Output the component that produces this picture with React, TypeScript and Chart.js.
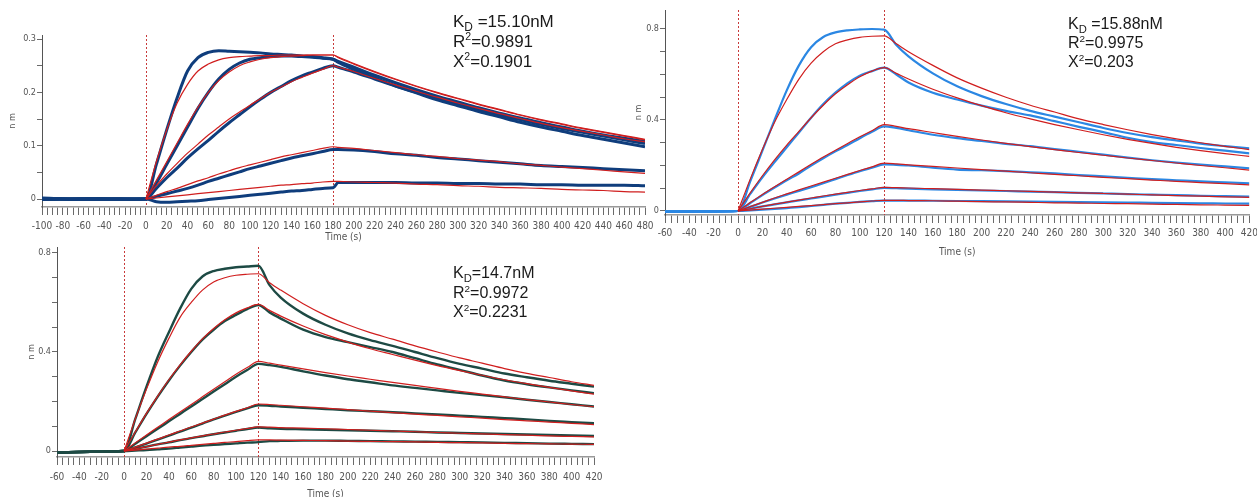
import React, { useEffect, useRef } from 'react';
import { Chart, registerables } from 'chart.js';
Chart.register(...registerables);

// ---------- Panel 1 (top-left) ----------
const P1_TIME = [-100, -50, 0, 10, 20, 30, 40, 50, 60, 70, 80, 90, 100, 110, 120, 130, 140, 150, 160, 170, 180, 185, 200, 220, 240, 260, 280, 300, 320, 340, 360, 380, 400, 420, 440, 460, 480];
const P1_A = [0.002, -0.001, 0, 0.065, 0.13, 0.19, 0.24, 0.265, 0.275, 0.278, 0.277, 0.276, 0.275, 0.274, 0.272, 0.271, 0.27, 0.268, 0.267, 0.265, 0.262, 0.256, 0.243, 0.227, 0.212, 0.199, 0.186, 0.175, 0.164, 0.154, 0.144, 0.135, 0.127, 0.119, 0.112, 0.105, 0.098];
const P1_A_FIT = [null, null, 0, 0.07, 0.13, 0.18, 0.215, 0.24, 0.253, 0.261, 0.265, 0.267, 0.268, 0.269, 0.269, 0.27, 0.27, 0.27, 0.27, 0.27, 0.27, 0.265, 0.253, 0.238, 0.224, 0.211, 0.199, 0.188, 0.177, 0.167, 0.157, 0.148, 0.14, 0.132, 0.125, 0.118, 0.111];
const P1_B = [0, 0.001, 0, 0.03, 0.065, 0.1, 0.135, 0.17, 0.2, 0.225, 0.243, 0.255, 0.262, 0.265, 0.267, 0.268, 0.268, 0.267, 0.266, 0.264, 0.262, 0.258, 0.247, 0.232, 0.218, 0.205, 0.193, 0.182, 0.171, 0.161, 0.152, 0.143, 0.135, 0.127, 0.12, 0.114, 0.108];
const P1_B_FIT = [null, null, 0, 0.035, 0.07, 0.105, 0.14, 0.172, 0.2, 0.222, 0.238, 0.25, 0.257, 0.262, 0.265, 0.267, 0.268, 0.269, 0.27, 0.27, 0.27, 0.266, 0.254, 0.239, 0.225, 0.212, 0.2, 0.189, 0.178, 0.168, 0.158, 0.149, 0.141, 0.133, 0.126, 0.119, 0.112];
const P1_C = [-0.001, 0.001, 0, 0.02, 0.04, 0.058, 0.077, 0.094, 0.11, 0.127, 0.143, 0.158, 0.173, 0.187, 0.2, 0.211, 0.222, 0.231, 0.238, 0.245, 0.25, 0.247, 0.238, 0.225, 0.212, 0.2, 0.189, 0.178, 0.168, 0.158, 0.149, 0.14, 0.132, 0.125, 0.118, 0.111, 0.104];
const P1_C_FIT = [null, null, 0, 0.025, 0.047, 0.067, 0.086, 0.103, 0.12, 0.135, 0.15, 0.163, 0.176, 0.188, 0.2, 0.21, 0.22, 0.228, 0.236, 0.243, 0.25, 0.247, 0.239, 0.226, 0.214, 0.202, 0.191, 0.18, 0.17, 0.16, 0.151, 0.142, 0.134, 0.127, 0.12, 0.113, 0.107];
const P1_D = [0.001, 0, 0, 0.005, 0.01, 0.015, 0.02, 0.026, 0.033, 0.039, 0.045, 0.051, 0.057, 0.062, 0.067, 0.072, 0.077, 0.081, 0.085, 0.089, 0.093, 0.093, 0.092, 0.089, 0.085, 0.082, 0.078, 0.075, 0.072, 0.069, 0.066, 0.063, 0.061, 0.059, 0.057, 0.055, 0.053];
const P1_D_FIT = [null, null, 0, 0.007, 0.014, 0.02, 0.027, 0.034, 0.04, 0.047, 0.053, 0.059, 0.064, 0.069, 0.074, 0.079, 0.083, 0.087, 0.091, 0.095, 0.098, 0.097, 0.095, 0.091, 0.087, 0.083, 0.08, 0.076, 0.073, 0.07, 0.066, 0.063, 0.06, 0.057, 0.054, 0.051, 0.048];
const P1_E = [0, -0.001, 0, -0.005, -0.006, -0.005, -0.004, -0.003, -0.001, 0.001, 0.003, 0.005, 0.007, 0.009, 0.011, 0.013, 0.015, 0.016, 0.018, 0.02, 0.021, 0.031, 0.031, 0.031, 0.031, 0.03, 0.03, 0.029, 0.029, 0.028, 0.028, 0.027, 0.027, 0.026, 0.026, 0.026, 0.025];
const P1_E_FIT = [null, null, 0, 0.002, 0.004, 0.006, 0.008, 0.01, 0.012, 0.014, 0.016, 0.018, 0.02, 0.022, 0.024, 0.026, 0.027, 0.029, 0.03, 0.032, 0.033, 0.033, 0.032, 0.031, 0.03, 0.028, 0.027, 0.025, 0.024, 0.022, 0.021, 0.02, 0.018, 0.017, 0.016, 0.014, 0.013];

// ---------- Panel 2 (top-right) ----------
const P2_TIME = [-60, -30, 0, 10, 20, 30, 40, 50, 60, 70, 80, 90, 100, 110, 120, 130, 140, 160, 180, 200, 220, 240, 260, 280, 300, 320, 340, 360, 380, 400, 420];
const P2_1 = [-0.003, -0.002, 0, 0.13, 0.265, 0.4, 0.53, 0.64, 0.72, 0.765, 0.785, 0.794, 0.798, 0.8, 0.797, 0.73, 0.68, 0.605, 0.548, 0.505, 0.47, 0.44, 0.415, 0.39, 0.365, 0.343, 0.325, 0.31, 0.296, 0.285, 0.275];
const P2_1_FIT = [null, null, 0, 0.14, 0.27, 0.39, 0.49, 0.58, 0.65, 0.7, 0.735, 0.752, 0.763, 0.768, 0.77, 0.735, 0.7, 0.64, 0.585, 0.54, 0.5, 0.465, 0.435, 0.405, 0.38, 0.357, 0.336, 0.317, 0.3, 0.284, 0.27];
const P2_2 = [-0.003, -0.002, 0, 0.075, 0.148, 0.215, 0.28, 0.345, 0.41, 0.47, 0.52, 0.562, 0.595, 0.615, 0.63, 0.6, 0.565, 0.52, 0.49, 0.463, 0.44, 0.42, 0.395, 0.37, 0.347, 0.322, 0.303, 0.29, 0.277, 0.265, 0.253];
const P2_2_FIT = [null, null, 0, 0.08, 0.155, 0.225, 0.29, 0.35, 0.41, 0.465, 0.515, 0.555, 0.59, 0.615, 0.63, 0.605, 0.58, 0.535, 0.497, 0.463, 0.432, 0.405, 0.38, 0.357, 0.335, 0.315, 0.297, 0.28, 0.265, 0.252, 0.24];
const P2_3 = [-0.003, -0.002, 0, 0.035, 0.07, 0.103, 0.135, 0.165, 0.2, 0.232, 0.262, 0.29, 0.32, 0.348, 0.372, 0.365, 0.355, 0.335, 0.32, 0.308, 0.295, 0.285, 0.272, 0.26, 0.248, 0.235, 0.223, 0.213, 0.204, 0.196, 0.188];
const P2_3_FIT = [null, null, 0, 0.037, 0.073, 0.107, 0.14, 0.172, 0.205, 0.237, 0.267, 0.297, 0.326, 0.353, 0.38, 0.372, 0.362, 0.345, 0.328, 0.312, 0.297, 0.283, 0.27, 0.257, 0.245, 0.233, 0.222, 0.211, 0.2, 0.19, 0.18];
const P2_4 = [-0.003, -0.002, 0, 0.018, 0.037, 0.055, 0.072, 0.088, 0.105, 0.122, 0.14, 0.158, 0.175, 0.19, 0.205, 0.203, 0.2, 0.19, 0.182, 0.179, 0.175, 0.17, 0.165, 0.158, 0.152, 0.146, 0.14, 0.135, 0.13, 0.126, 0.122];
const P2_4_FIT = [null, null, 0, 0.019, 0.038, 0.057, 0.075, 0.093, 0.11, 0.127, 0.144, 0.161, 0.178, 0.194, 0.21, 0.207, 0.203, 0.196, 0.189, 0.182, 0.175, 0.168, 0.161, 0.155, 0.148, 0.142, 0.136, 0.13, 0.125, 0.12, 0.115];
const P2_5 = [-0.003, -0.002, 0, 0.01, 0.02, 0.029, 0.038, 0.047, 0.055, 0.063, 0.072, 0.08, 0.088, 0.095, 0.102, 0.1, 0.098, 0.095, 0.093, 0.09, 0.088, 0.085, 0.083, 0.08, 0.077, 0.074, 0.072, 0.07, 0.067, 0.065, 0.063];
const P2_5_FIT = [null, null, 0, 0.01, 0.02, 0.03, 0.039, 0.048, 0.057, 0.066, 0.074, 0.082, 0.09, 0.097, 0.104, 0.103, 0.101, 0.098, 0.095, 0.092, 0.089, 0.086, 0.083, 0.08, 0.077, 0.074, 0.071, 0.068, 0.065, 0.062, 0.06];
const P2_6 = [-0.003, -0.002, 0, 0.003, 0.006, 0.009, 0.013, 0.017, 0.022, 0.027, 0.032, 0.036, 0.04, 0.043, 0.046, 0.046, 0.046, 0.045, 0.044, 0.043, 0.042, 0.041, 0.04, 0.039, 0.038, 0.037, 0.036, 0.035, 0.034, 0.033, 0.032];
const P2_6_FIT = [null, null, 0, 0.004, 0.008, 0.012, 0.016, 0.02, 0.024, 0.028, 0.032, 0.036, 0.04, 0.044, 0.047, 0.047, 0.046, 0.045, 0.043, 0.041, 0.04, 0.038, 0.036, 0.035, 0.033, 0.032, 0.03, 0.029, 0.027, 0.026, 0.025];

// ---------- Panel 3 (bottom-left) ----------
const P3_TIME = [-60, -30, 0, 10, 20, 30, 40, 50, 60, 70, 80, 90, 100, 110, 120, 130, 140, 160, 180, 200, 220, 240, 260, 280, 300, 320, 340, 360, 380, 400, 420];
const P3_1 = [-0.006, -0.003, 0, 0.13, 0.26, 0.38, 0.48, 0.575, 0.655, 0.705, 0.727, 0.736, 0.742, 0.745, 0.748, 0.67, 0.62, 0.555, 0.51, 0.475, 0.448, 0.425, 0.4, 0.375, 0.352, 0.333, 0.313, 0.298, 0.284, 0.272, 0.26];
const P3_1_FIT = [null, null, 0, 0.13, 0.25, 0.36, 0.455, 0.54, 0.6, 0.65, 0.683, 0.7, 0.71, 0.714, 0.716, 0.68, 0.65, 0.595, 0.548, 0.51, 0.478, 0.452, 0.425, 0.4, 0.376, 0.355, 0.333, 0.314, 0.297, 0.28, 0.265];
const P3_2 = [-0.006, -0.003, 0, 0.075, 0.15, 0.22, 0.285, 0.345, 0.4, 0.45, 0.49, 0.525, 0.55, 0.573, 0.59, 0.56, 0.535, 0.49, 0.46, 0.44, 0.42, 0.4, 0.375, 0.35, 0.328, 0.305, 0.285, 0.27, 0.257, 0.245, 0.234];
const P3_2_FIT = [null, null, 0, 0.077, 0.152, 0.222, 0.288, 0.348, 0.403, 0.453, 0.495, 0.53, 0.558, 0.578, 0.592, 0.568, 0.545, 0.505, 0.47, 0.44, 0.413, 0.39, 0.367, 0.345, 0.325, 0.306, 0.288, 0.272, 0.257, 0.243, 0.23];
const P3_3 = [-0.006, -0.003, 0, 0.03, 0.06, 0.09, 0.12, 0.15, 0.18, 0.21, 0.24, 0.27, 0.3, 0.327, 0.352, 0.347, 0.34, 0.322, 0.305, 0.29, 0.278, 0.265, 0.255, 0.245, 0.235, 0.226, 0.217, 0.207, 0.198, 0.189, 0.18];
const P3_3_FIT = [null, null, 0, 0.033, 0.065, 0.096, 0.127, 0.158, 0.188, 0.219, 0.25, 0.28, 0.31, 0.337, 0.362, 0.355, 0.347, 0.332, 0.317, 0.303, 0.29, 0.277, 0.265, 0.253, 0.241, 0.23, 0.219, 0.208, 0.198, 0.188, 0.179];
const P3_4 = [-0.006, -0.003, 0, 0.015, 0.03, 0.046, 0.062, 0.078, 0.095, 0.111, 0.128, 0.143, 0.158, 0.172, 0.185, 0.183, 0.18, 0.175, 0.17, 0.165, 0.161, 0.157, 0.152, 0.148, 0.143, 0.138, 0.133, 0.128, 0.122, 0.117, 0.112];
const P3_4_FIT = [null, null, 0, 0.016, 0.032, 0.048, 0.065, 0.081, 0.097, 0.113, 0.129, 0.145, 0.16, 0.175, 0.19, 0.188, 0.185, 0.179, 0.173, 0.167, 0.161, 0.155, 0.149, 0.144, 0.138, 0.133, 0.127, 0.122, 0.117, 0.112, 0.107];
const P3_5 = [-0.006, -0.003, 0, 0.009, 0.018, 0.027, 0.035, 0.044, 0.052, 0.06, 0.068, 0.075, 0.082, 0.089, 0.095, 0.092, 0.09, 0.088, 0.086, 0.084, 0.082, 0.08, 0.078, 0.075, 0.073, 0.071, 0.069, 0.067, 0.065, 0.063, 0.061];
const P3_5_FIT = [null, null, 0, 0.009, 0.018, 0.027, 0.036, 0.045, 0.053, 0.061, 0.069, 0.077, 0.084, 0.091, 0.098, 0.097, 0.095, 0.093, 0.09, 0.087, 0.084, 0.081, 0.078, 0.075, 0.072, 0.069, 0.066, 0.064, 0.061, 0.059, 0.057];
const P3_6 = [-0.006, -0.003, 0, 0.002, 0.004, 0.007, 0.01, 0.014, 0.018, 0.022, 0.025, 0.028, 0.031, 0.034, 0.036, 0.04, 0.041, 0.042, 0.042, 0.041, 0.04, 0.039, 0.038, 0.037, 0.036, 0.035, 0.033, 0.032, 0.03, 0.029, 0.028];
const P3_6_FIT = [null, null, 0, 0.004, 0.008, 0.012, 0.016, 0.019, 0.023, 0.027, 0.031, 0.035, 0.038, 0.042, 0.045, 0.045, 0.044, 0.043, 0.042, 0.04, 0.039, 0.038, 0.037, 0.035, 0.034, 0.033, 0.031, 0.03, 0.029, 0.028, 0.027];

// ---------- annotations & labels ----------
const X_TITLE = 'Time (s)';
const Y_TITLE = 'n m';
const P1_STATS = ['15.10nM', '0.9891', '0.1901'];
const P2_STATS = ['15.88nM', '0.9975', '0.203'];
const P3_STATS = ['14.7nM', '0.9972', '0.2231'];

const FIT_COLOR = '#d01e1e';
const TICK_FONT = "'Liberation Sans Narrow', 'DejaVu Sans Condensed', 'Liberation Sans', sans-serif";

const vlinePlugin = {
  id: 'vlines',
  beforeDatasetsDraw(chart: any, _args: any, opts: any) {
    const { ctx, chartArea, scales } = chart;
    ctx.save();
    ctx.strokeStyle = opts.color || '#c0392b';
    ctx.lineWidth = 1;
    ctx.setLineDash([2, 2]);
    for (const v of opts.values || []) {
      const x = Math.round(scales.x.getPixelForValue(v)) + 0.5;
      ctx.beginPath();
      ctx.moveTo(x, chartArea.top);
      ctx.lineTo(x, chartArea.bottom);
      ctx.stroke();
    }
    ctx.restore();
  },
};

function pts(times: number[], vals: (number | null)[]) {
  return times.map((t, i) => ({ x: t, y: vals[i] }));
}

type PanelCfg = {
  left: number; top: number; width: number; height: number;
  pad: { left: number; right: number; top: number };
  yWidth: number; xHeight: number;
  xMin: number; xMax: number; yMin: number; yMax: number;
  yStep: number; yMajor: number;
  vlines: number[];
  times: number[];
  series: (number | null)[][];
  fits: (number | null)[][];
  dataColor: string; dataWidth: number;
  xTickPad: number;
};

function buildConfig(c: PanelCfg): any {
  const datasets: any[] = [];
  c.series.forEach((s) => {
    datasets.push({ data: pts(c.times, s), borderColor: c.dataColor, borderWidth: c.dataWidth, order: 2, pointRadius: 0, tension: 0.35, cubicInterpolationMode: 'monotone' });
  });
  c.fits.forEach((s) => {
    datasets.push({ data: pts(c.times, s), borderColor: FIT_COLOR, borderWidth: 1.2, order: 1, pointRadius: 0, tension: 0.35, cubicInterpolationMode: 'monotone' });
  });
  return {
    type: 'line',
    data: { datasets },
    plugins: [vlinePlugin],
    options: {
      animation: false,
      responsive: false,
      events: [],
      layout: { padding: { left: c.pad.left, right: c.pad.right, top: c.pad.top, bottom: 0 } },
      plugins: { legend: { display: false }, tooltip: { enabled: false }, vlines: { values: c.vlines, color: '#c83a3a' } },
      scales: {
        x: {
          type: 'linear', min: c.xMin, max: c.xMax,
          afterFit: (s: any) => { s.height = c.xHeight; },
          border: { display: true, color: '#9a9a9a', width: 1.5 },
          grid: { drawOnChartArea: false, drawTicks: true, tickLength: 8, tickColor: '#6a6a6a', tickWidth: 1 },
          ticks: {
            stepSize: 5, autoSkip: false, maxRotation: 0, minRotation: 0, includeBounds: false,
            padding: c.xTickPad, color: '#555', font: { family: TICK_FONT, size: 10 },
            callback: (v: number) => (Math.round(v) % 20 === 0 ? String(Math.round(v)) : ''),
          },
          title: { display: true, text: X_TITLE, color: '#555', font: { family: TICK_FONT, size: 10 }, padding: { top: 0, bottom: 2 } },
        },
        y: {
          type: 'linear', min: c.yMin, max: c.yMax,
          afterFit: (s: any) => { s.width = c.yWidth; },
          border: { display: true, color: '#555', width: 1 },
          grid: { drawOnChartArea: false, drawTicks: true, tickLength: 5, tickColor: '#6a6a6a', tickWidth: 1 },
          ticks: {
            stepSize: c.yStep, autoSkip: false, includeBounds: false, padding: 1, color: '#555', font: { family: TICK_FONT, size: 9 },
            callback: (v: number) => {
              const r = Math.round(v * 1000) / 1000;
              const q = r / c.yMajor;
              return Math.abs(q - Math.round(q)) < 1e-6 ? String(r) : '';
            },
          },
          title: { display: true, text: Y_TITLE, color: '#555', font: { family: TICK_FONT, size: 9 }, padding: { top: 2, bottom: 0 } },
        },
      },
    },
  };
}

function Panel({ cfg }: { cfg: PanelCfg }) {
  const ref = useRef<HTMLCanvasElement | null>(null);
  useEffect(() => {
    const chart = new Chart(ref.current as HTMLCanvasElement, buildConfig(cfg));
    return () => chart.destroy();
  }, []);
  return (
    <canvas
      ref={ref}
      width={cfg.width}
      height={cfg.height}
      style={{ position: 'absolute', left: cfg.left, top: cfg.top, width: cfg.width, height: cfg.height }}
    />
  );
}

function Stats({ left, top, size, lh, vals, spaced }: { left: number; top: number; size: number; lh: number; vals: string[]; spaced: boolean }) {
  const sub = { fontSize: '70%', verticalAlign: 'sub', lineHeight: 0 } as React.CSSProperties;
  const sup = { fontSize: '62%', verticalAlign: 'super', lineHeight: 0 } as React.CSSProperties;
  return (
    <div style={{ position: 'absolute', left, top, fontFamily: "'Liberation Sans', Arial, sans-serif", fontSize: size, lineHeight: `${lh}px`, color: '#1a1a1a', whiteSpace: 'nowrap' }}>
      <div>K<span style={sub}>D</span>{spaced ? ' ' : ''}={vals[0]}</div>
      <div>R<span style={sup}>2</span>={vals[1]}</div>
      <div>X<span style={sup}>2</span>={vals[2]}</div>
    </div>
  );
}

const PANEL1: PanelCfg = {
  left: 0, top: 0, width: 660, height: 245,
  pad: { left: 5, right: 15, top: 35 }, yWidth: 37, xHeight: 38,
  xMin: -100, xMax: 480, yMin: -0.0149, yMax: 0.3075, yStep: 0.05, yMajor: 0.1,
  vlines: [0, 180], times: P1_TIME,
  series: [P1_A, P1_B, P1_C, P1_D, P1_E],
  fits: [P1_A_FIT, P1_B_FIT, P1_C_FIT, P1_D_FIT, P1_E_FIT],
  dataColor: '#0f3d7c', dataWidth: 3, xTickPad: 5,
};

const PANEL2: PanelCfg = {
  left: 628, top: 0, width: 634, height: 260,
  pad: { left: 3, right: 10, top: 10 }, yWidth: 34, xHeight: 45,
  xMin: -60, xMax: 420, yMin: -0.0176, yMax: 0.8835, yStep: 0.1, yMajor: 0.4,
  vlines: [0, 120], times: P2_TIME,
  series: [P2_1, P2_2, P2_3, P2_4, P2_5, P2_6],
  fits: [P2_1_FIT, P2_2_FIT, P2_3_FIT, P2_4_FIT, P2_5_FIT, P2_6_FIT],
  dataColor: '#2b87e3', dataWidth: 2.2, xTickPad: 4,
};

const PANEL3: PanelCfg = {
  left: 0, top: 240, width: 640, height: 262,
  pad: { left: 24, right: 46, top: 7 }, yWidth: 33, xHeight: 45,
  xMin: -60, xMax: 420, yMin: -0.024, yMax: 0.824, yStep: 0.1, yMajor: 0.4,
  vlines: [0, 120], times: P3_TIME,
  series: [P3_1, P3_2, P3_3, P3_4, P3_5, P3_6],
  fits: [P3_1_FIT, P3_2_FIT, P3_3_FIT, P3_4_FIT, P3_5_FIT, P3_6_FIT],
  dataColor: '#1d4a44', dataWidth: 2.4, xTickPad: 6,
};

export default function App() {
  return (
    <div style={{ position: 'fixed', left: 0, top: 0, width: 1257, height: 497, overflow: 'hidden', background: '#fff' }}>
      <Panel cfg={PANEL3} />
      <Panel cfg={PANEL1} />
      <Panel cfg={PANEL2} />
      <Stats left={453} top={12} size={17} lh={20} vals={P1_STATS} spaced={true} />
      <Stats left={1068} top={14} size={16} lh={19} vals={P2_STATS} spaced={true} />
      <Stats left={453} top={263} size={16} lh={19.5} vals={P3_STATS} spaced={false} />
    </div>
  );
}
